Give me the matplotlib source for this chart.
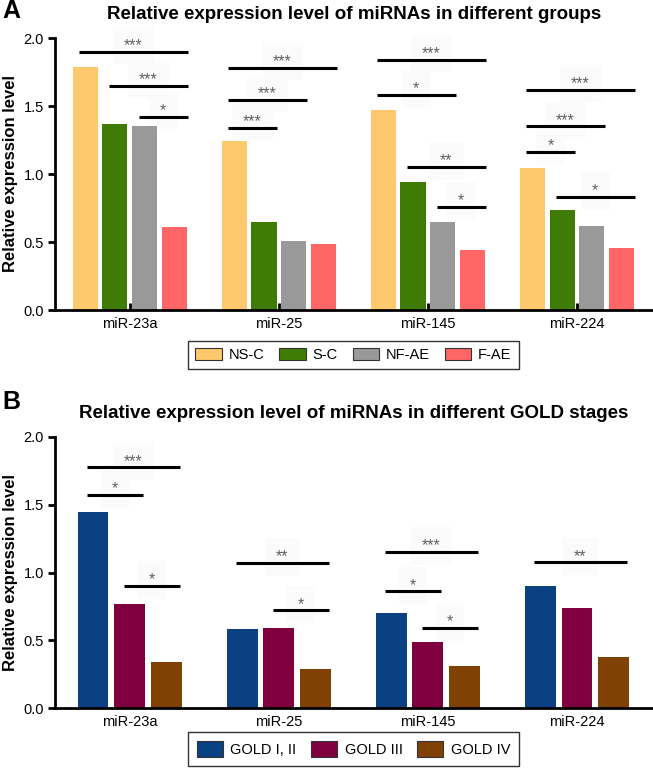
import numpy as np
import matplotlib
matplotlib.use("Agg")
import matplotlib.pyplot as plt

plt.rcParams['font.family'] = ['Liberation Sans', 'DejaVu Sans']

mirnas = ['miR-23a', 'miR-25', 'miR-145', 'miR-224']

# panel A: groups
groups_a = ['NS-C', 'S-C', 'NF-AE', 'F-AE']
colors_a = ['#FDC96C', '#3F7C06', '#999999', '#FF6666']
ns_c = [1.79, 1.24, 1.47, 1.045]
s_c = [1.37, 0.65, 0.94, 0.735]
nf_ae = [1.35, 0.51, 0.65, 0.62]
f_ae = [0.61, 0.485, 0.44, 0.455]
# (mirna index, bar i, bar j, height, label)
sig_a = [
    (0, 0, 3, 1.90, '***'), (0, 1, 3, 1.65, '***'), (0, 2, 3, 1.42, '*'),
    (1, 0, 3, 1.78, '***'), (1, 0, 2, 1.545, '***'), (1, 0, 1, 1.34, '***'),
    (2, 0, 3, 1.84, '***'), (2, 0, 2, 1.58, '*'), (2, 1, 3, 1.05, '**'), (2, 2, 3, 0.76, '*'),
    (3, 0, 3, 1.62, '***'), (3, 0, 2, 1.35, '***'), (3, 0, 1, 1.16, '*'), (3, 1, 3, 0.83, '*'),
]

# panel B: GOLD stages
groups_b = ['GOLD I, II', 'GOLD III', 'GOLD IV']
colors_b = ['#0A4182', '#80003F', '#7F4204']
gold_12 = [1.45, 0.58, 0.70, 0.90]
gold_3 = [0.77, 0.59, 0.49, 0.735]
gold_4 = [0.34, 0.29, 0.31, 0.38]
sig_b = [
    (0, 0, 2, 1.776, '***'), (0, 0, 1, 1.57, '*'), (0, 1, 2, 0.90, '*'),
    (1, 0, 2, 1.07, '**'), (1, 1, 2, 0.72, '*'),
    (2, 0, 2, 1.15, '***'), (2, 0, 1, 0.86, '*'), (2, 1, 2, 0.59, '*'),
    (3, 0, 2, 1.075, '**'),
]


def draw_panel(ax, series, names, colors, step, width, sigs):
    x = np.arange(len(mirnas))
    n = len(series)
    offsets = (np.arange(n) - (n - 1) / 2) * step
    for vals, name, c, off in zip(series, names, colors, offsets):
        ax.bar(x + off, vals, width, color=c, label=name, zorder=2)
    for g, i, j, h, lab in sigs:
        x0 = x[g] + offsets[i] - 0.04
        x1 = x[g] + offsets[j] + 0.085
        ax.plot([x0, x1], [h, h], color='black', lw=2.2, solid_capstyle='butt', zorder=3)
        ax.text((x0 + x1) / 2, h + 0.012, lab, ha='center', va='baseline',
                fontsize=11.5, color='#606060', zorder=1,
                bbox=dict(facecolor='#fbfbfb', edgecolor='none', pad=8))
    ax.set_xlim(-0.503, 3.51)
    ax.set_ylim(0, 2.0)
    ax.set_yticks([0, 0.5, 1.0, 1.5, 2.0])
    ax.set_yticklabels(['0.0', '0.5', '1.0', '1.5', '2.0'])
    ax.set_xticks(x)
    ax.set_xticklabels(mirnas)
    for s in ['top', 'right']:
        ax.spines[s].set_visible(False)
    for s in ['left', 'bottom']:
        ax.spines[s].set_linewidth(2)
        ax.spines[s].set_zorder(4)
    ax.tick_params(axis='y', direction='out', length=5, width=2, labelsize=10.5, pad=3)
    ax.tick_params(axis='x', direction='in', length=5, width=2, labelsize=10.5, pad=5)
    ax.set_ylabel('Relative expression level', fontsize=12, fontweight='bold', labelpad=4)


fig = plt.figure(figsize=(6.53, 7.70), dpi=100)
leg_x = 353.5 / 653

ax_a = fig.add_axes([55 / 653, 1 - 310 / 770, 598 / 653, 272 / 770])
draw_panel(ax_a, [ns_c, s_c, nf_ae, f_ae], groups_a, colors_a, 0.201, 0.168, sig_a)
ax_a.set_title('Relative expression level of miRNAs in different groups',
               fontsize=13.5, fontweight='bold', pad=14)
ax_a.legend(loc='center', bbox_to_anchor=(leg_x, 1 - 355 / 770), bbox_transform=fig.transFigure,
            ncol=4, fontsize=10.5, frameon=True, fancybox=False, edgecolor='black',
            handlelength=1.8, handleheight=0.9, columnspacing=1.0, handletextpad=0.5,
            borderpad=0.5)
for p in ax_a.get_legend().get_patches():
    p.set_edgecolor('#333333')
    p.set_linewidth(0.8)

ax_b = fig.add_axes([55 / 653, 1 - 708 / 770, 598 / 653, 271 / 770])
draw_panel(ax_b, [gold_12, gold_3, gold_4], groups_b, colors_b, 0.248, 0.208, sig_b)
ax_b.set_title('Relative expression level of miRNAs in different GOLD stages',
               fontsize=13.5, fontweight='bold', pad=14)
ax_b.legend(loc='center', bbox_to_anchor=(leg_x, 1 - 749 / 770), bbox_transform=fig.transFigure,
            ncol=3, fontsize=10.5, frameon=True, fancybox=False, edgecolor='black',
            handlelength=1.8, handleheight=1.4, columnspacing=1.0, handletextpad=0.5,
            borderpad=0.6)
for p in ax_b.get_legend().get_patches():
    p.set_edgecolor('#333333')
    p.set_linewidth(0.8)

fig.text(2 / 653, 1 - 11 / 770, 'A', fontsize=18, fontweight='bold', va='center', ha='left')
fig.text(2 / 653, 1 - 402 / 770, 'B', fontsize=18, fontweight='bold', va='center', ha='left')

fig.savefig('out.png', dpi=100, facecolor='white')
